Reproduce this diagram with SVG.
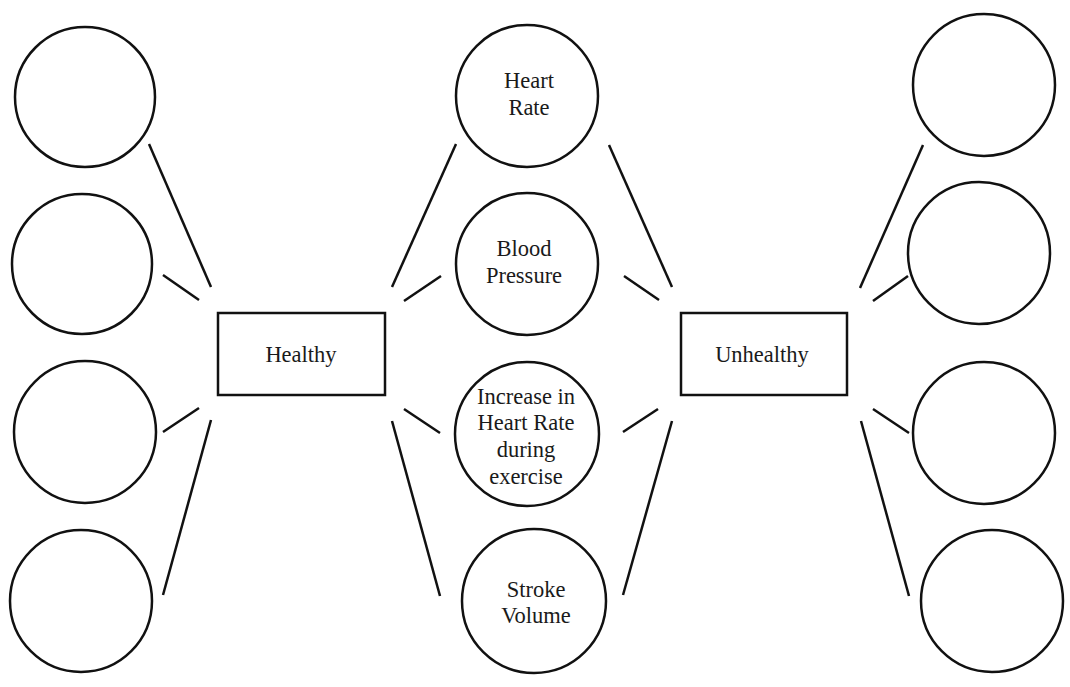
<svg xmlns="http://www.w3.org/2000/svg" width="1070" height="687" viewBox="0 0 1070 687">
<style>
.n{fill:#fff;stroke:#111;stroke-width:2.5}
.t{font-family:"Liberation Serif","Times New Roman",serif;font-size:22.5px;fill:#1a1a1a;text-anchor:middle}
.c line{stroke:#111;stroke-width:2.5;stroke-linecap:butt}
</style>
<rect width="1070" height="687" fill="#fff"/>
<g class="c" id="connectors">
<line x1="149" y1="144" x2="211" y2="287"/>
<line x1="163" y1="275" x2="199" y2="300"/>
<line x1="163" y1="432" x2="199" y2="408"/>
<line x1="163" y1="595" x2="211" y2="420"/>
<line x1="456" y1="144" x2="392" y2="287"/>
<line x1="441" y1="276" x2="404" y2="301"/>
<line x1="404" y1="409" x2="440" y2="433"/>
<line x1="392" y1="421" x2="440" y2="596"/>
<line x1="609" y1="145" x2="672" y2="287"/>
<line x1="624" y1="276" x2="659" y2="300"/>
<line x1="658" y1="409" x2="623" y2="432"/>
<line x1="672" y1="421" x2="623" y2="595"/>
<line x1="923" y1="145" x2="860" y2="288"/>
<line x1="908" y1="276" x2="873" y2="301"/>
<line x1="873" y1="409" x2="909" y2="433"/>
<line x1="861" y1="421" x2="909" y2="596"/>
</g>
<g id="left1"><circle class="n" cx="85" cy="97" r="70"/></g>
<g id="left2"><circle class="n" cx="82" cy="264" r="70"/></g>
<g id="left3"><circle class="n" cx="85" cy="432" r="71"/></g>
<g id="left4"><circle class="n" cx="81" cy="601" r="71"/></g>
<g id="healthy"><rect class="n" x="218" y="313" width="167" height="82"/><text class="t" x="301" y="362">Healthy</text></g>
<g id="heartrate"><circle class="n" cx="527" cy="96" r="71"/><text class="t" x="529" y="88">Heart</text><text class="t" x="529" y="115">Rate</text></g>
<g id="bloodpressure"><circle class="n" cx="527" cy="264" r="71"/><text class="t" x="524" y="256">Blood</text><text class="t" x="524" y="283">Pressure</text></g>
<g id="increase"><circle class="n" cx="527" cy="434" r="72"/><text class="t" x="526" y="404">Increase in</text><text class="t" x="526" y="430">Heart Rate</text><text class="t" x="526" y="457">during</text><text class="t" x="526" y="484">exercise</text></g>
<g id="strokevolume"><circle class="n" cx="534" cy="601" r="72"/><text class="t" x="536" y="597">Stroke</text><text class="t" x="536" y="623">Volume</text></g>
<g id="unhealthy"><rect class="n" x="681" y="313" width="166" height="82"/><text class="t" x="762" y="362">Unhealthy</text></g>
<g id="right1"><circle class="n" cx="984" cy="85" r="71"/></g>
<g id="right2"><circle class="n" cx="979" cy="253" r="71"/></g>
<g id="right3"><circle class="n" cx="984" cy="433" r="71"/></g>
<g id="right4"><circle class="n" cx="992" cy="601" r="71"/></g>
</svg>
